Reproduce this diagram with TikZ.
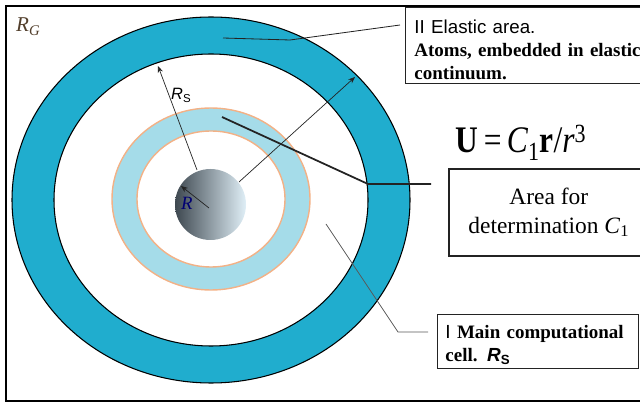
\documentclass[tikz,border=0pt]{standalone}
\usepackage{fontspec}
\setmainfont{Liberation Serif}
\setsansfont{Liberation Sans}
\usetikzlibrary{arrows.meta,positioning}
\definecolor{lagoon}{RGB}{32,173,206}
\definecolor{sky}{RGB}{165,220,233}
\definecolor{peach}{RGB}{243,177,134}
\definecolor{slate}{RGB}{62,72,80}
\definecolor{mist}{RGB}{170,211,228}
\definecolor{ice}{RGB}{224,239,247}
\definecolor{ink}{RGB}{35,35,35}
\tikzset{
  >={Stealth[length=2mm,width=1.6mm]},
  rad arrow/.style={->,line width=0.6pt,draw=ink},
  callout/.style={draw=#1,line width=0.7pt},
  callout/.default=ink,
  note box/.style={draw=#1,anchor=north west,inner ysep=0pt,line width=0.8pt},
  note box/.default=ink,
  tag/.style={anchor=base west,inner sep=0pt},
}

\begin{document}
\begin{tikzpicture}[x=0.03cm,y=-0.03cm]
  \useasboundingbox (0,0) rectangle (640,403);
  \clip (0,0) rectangle (640,403);
  \draw[line width=2.4pt] (6,6) rectangle (720,401);
  % rings
  \filldraw[fill=lagoon,draw=black,line width=0.9pt,even odd rule]
    (211,200) ellipse [x radius=199,y radius=183]
    (211,200) ellipse [x radius=157,y radius=146];
  \filldraw[fill=sky,draw=peach,line width=1.2pt,even odd rule]
    (211,199) ellipse [x radius=99,y radius=91]
    (211,199) ellipse [x radius=74,y radius=68];
  \shade[left color=slate,middle color=mist,right color=ice] (210.5,204.5) circle [radius=35.5];
  % radii
  \coordinate (core) at (209,208);
  \coordinate (coreTop) at (197,170);
  \coordinate (coreRight) at (239,182);
  \coordinate (coreEdge) at (181,186);
  \coordinate (innerEdge) at (158,66);
  \coordinate (outerEdge) at (355,77);
  \draw[rad arrow] (core) -- (coreEdge);
  \draw[rad arrow] (coreTop) -- (innerEdge);
  \draw[rad arrow] (coreRight) -- (outerEdge);
  \node[tag,font=\fontsize{18}{18}\selectfont\itshape,text=ink!70!brown] (rg) at (16,32) {R\textsubscript{G}};
  \node[tag,font=\fontsize{14}{14}\selectfont\sffamily] (rs) at (171,100) {\textit{R}\textsubscript{S}};
  \node[tag,font=\fontsize{16}{16}\selectfont\itshape,text=blue!45!black] (r) at (181,210) {R};
  % boxes
  \node[note box,minimum width=10cm,minimum height=2.28cm,inner xsep=0.27cm,text width=9.5cm,align=left,
    font=\fontsize{16.2}{20}\selectfont\bfseries] (elastic) at (405,7)
    {\rule{0pt}{19pt}{\sffamily\mdseries\fontsize{16}{20}\selectfont II Elastic area.}\\Atoms, embedded in elastic\\continuum.};
  \node[note box,line width=1.3pt,minimum width=6cm,minimum height=2.61cm,align=center,
    font=\fontsize{20}{25}\selectfont] (area) at (448,168)
    {Area for\\determination \textit{C}\textsubscript{1}};
  \node[note box,minimum width=6.03cm,minimum height=1.62cm,inner xsep=0.24cm,text width=5.55cm,align=left,
    font=\fontsize{16.2}{19.6}\selectfont\bfseries] (cell) at (437,314)
    {\rule{0pt}{18pt}{\sffamily\mdseries I} Main computational\\cell. {\sffamily\itshape R}\textsubscript{\sffamily S}};
  \node[anchor=base,inner sep=0pt,font=\fontsize{32}{32}\selectfont] (law) at (521,153)
    {\scalebox{0.84}[1]{\textbf{U}\,=\,\textit{C}\textsubscript{1}\textbf{r}/\textit{r}\textsuperscript{3}}};
  % callouts
  \coordinate (outerBand) at (223,38);
  \coordinate (bend1) at (290,40);
  \coordinate (tip1) at (400,25);
  \coordinate (skyBand) at (222,117);
  \coordinate (bend2) at (368,184);
  \coordinate (tip2) at (431,184);
  \coordinate (whiteBand) at (326,224);
  \coordinate (bend3) at (398,332);
  \coordinate (tip3) at (428,332);
  \draw[callout] (outerBand) -- (bend1) -- (tip1);
  \draw[callout,line width=1.5pt] (skyBand) -- (bend2) -- (tip2);
  \draw[callout=black!65] (whiteBand) -- (bend3) -- (tip3);
\end{tikzpicture}
\end{document}
